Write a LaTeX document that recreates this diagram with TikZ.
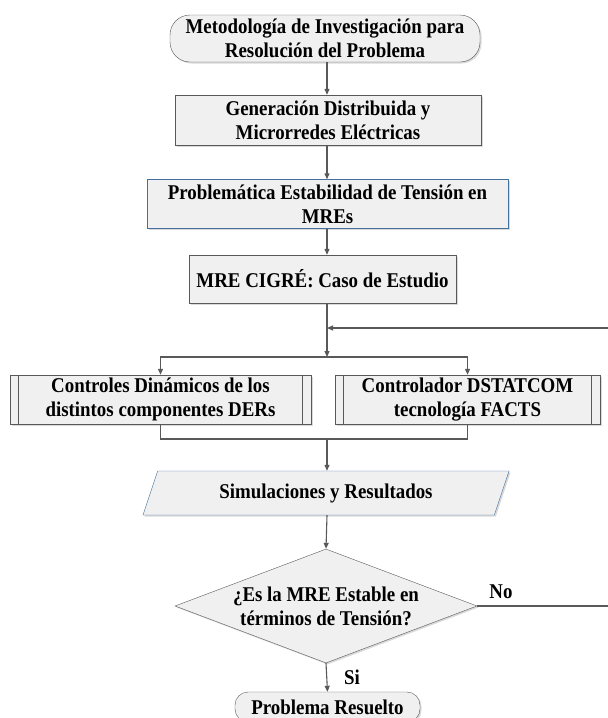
\documentclass[tikz,border=0pt]{standalone}
\usepackage{fontspec}
\newfontfamily\flowfont{Liberation Serif Bold}[FakeStretch=0.9]
\usetikzlibrary{shapes.geometric,arrows.meta,shadows}

\definecolor{linegray}{HTML}{595959}
\definecolor{boxgray}{HTML}{F0F0F0}
\definecolor{blueline}{HTML}{41719C}

\begin{document}
\begin{tikzpicture}[x=1pt,y=-1pt,
    font=\flowfont\fontsize{21}{24}\selectfont,
    every node/.style={align=center,inner sep=0pt},
    box/.style={draw=linegray,fill=boxgray,minimum height=49pt,
      drop shadow={shadow xshift=1.5pt,shadow yshift=-1.5pt,opacity=0.3}},
    term/.style={box,rounded corners=20pt},
    arr/.style={draw=linegray,line width=1.1pt,-{Triangle[length=6pt,width=5pt]}},
    line/.style={draw=linegray,line width=1.1pt}]
  \useasboundingbox (0,0) rectangle (608,718);
  \coordinate (axis) at (327,0);

  \node[term,minimum width=310pt,minimum height=47pt] (start) at (325,38.5)
    {Metodología de Investigación para\\Resolución del Problema};
  \node[box,minimum width=306pt,minimum height=50pt] (gen) at (328,120)
    {Generación Distribuida y\\Microrredes Eléctricas};
  \node[box,draw=blueline,minimum width=361pt] (prob) at (327.5,204)
    {Problemática Estabilidad de Tensión en\\MREs};
  \node[box,minimum width=267pt,minimum height=48pt] (mre) at (322.5,279)
    {MRE CIGRÉ: Caso de Estudio};

  \node[box,minimum width=301pt] (ctrl) at (160.5,399.5)
    {Controles Dinámicos de los\\distintos componentes DERs};
  \node[box,minimum width=265pt] (dstat) at (467.5,399.5)
    {Controlador DSTATCOM\\tecnología FACTS};
  \foreach \n in {ctrl,dstat} {
    \draw[line] ([xshift=9pt]\n.north west) -- ([xshift=9pt]\n.south west);
    \draw[line] ([xshift=-9pt]\n.north east) -- ([xshift=-9pt]\n.south east);
  }

  \node[box,draw=blueline,trapezium,trapezium left angle=64,trapezium right angle=116,
    trapezium stretches=true,minimum width=367pt,minimum height=44pt] (sim) at (326,493)
    {Simulaciones y Resultados};
  \node[box,diamond,shape aspect=2.65,minimum width=302pt,minimum height=114pt] (dec) at (326,606)
    {¿Es la MRE Estable en\\términos de Tensión?};
  \node[term,rounded corners=13pt,minimum width=185pt,minimum height=30pt] (fin) at (327.5,707)
    {Problema Resuelto};

  % connectors
  \coordinate (split) at (327,357);
  \coordinate (join) at (327,439);
  \coordinate (back) at (614,606);
  \coordinate (backtop) at (614,328);
  \draw[arr] (start.south -| axis) -- (gen.north -| axis);
  \draw[arr] (gen.south -| axis) -- (prob.north -| axis);
  \draw[arr] (prob.south -| axis) -- (mre.north -| axis);
  \draw[arr] (mre.south -| axis) -- (split);
  \draw[arr] (split) -| (ctrl.north);
  \draw[arr] (split) -| (dstat.north);
  \draw[line] (ctrl.south) |- (join);
  \draw[line] (dstat.south) |- (join);
  \draw[arr] (join) -- (sim.north -| axis);
  \draw[arr] (sim.south -| axis) -- (dec.north);
  \draw[arr] (dec.south) -- (fin.north);
  \draw[arr] (dec.east) -- (back) -- (backtop) -- (axis |- backtop);

  \node (no) at (501,592) {No};
  \node (si) at (352,677) {Si};
\end{tikzpicture}
\end{document}
